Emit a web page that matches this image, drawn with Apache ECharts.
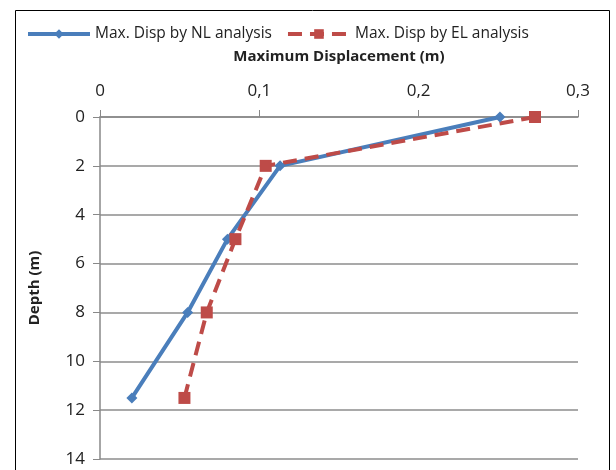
<!DOCTYPE html>
<html>
<head>
<meta charset="utf-8">
<script src="https://cdn.jsdelivr.net/npm/echarts@6/dist/echarts.min.js"></script>
<style>
  html, body { margin: 0; padding: 0; background: #fff; }
  #chart { width: 616px; height: 470px; }
</style>
</head>
<body>
<div id="chart"></div>
<script>
// depth (m) of each reading
const depths = [0, 2, 5, 8, 11.5]
// max displacement (m)
const nlDisp = [0.251, 0.113, 0.080, 0.055, 0.020]
const elDisp = [0.273, 0.104, 0.085, 0.067, 0.053]
const xTicks = [0, 0.1, 0.2, 0.3]
const yTicks = [0, 2, 4, 6, 8, 10, 12, 14]

const toPairs = (xs) => xs.map((x, i) => [x, depths[i]])
const comma = (v) => String(Math.round(v * 10) / 10).replace('.', ',')

const font = 'Open Sans, Liberation Sans, sans-serif'
const chart = echarts.init(document.getElementById('chart'))

chart.setOption({
  animation: false,
  textStyle: { fontFamily: font },
  graphic: [
    {
      type: 'rect',
      shape: { x: 15.5, y: 10.5, width: 594, height: 480 },
      style: { fill: 'none', stroke: '#000', lineWidth: 1 }
    }
  ],
  legend: {
    top: 21,
    left: 21,
    itemGap: 14,
    itemWidth: 62,
    itemHeight: 12,
    lineStyle: { width: 4 },
    textStyle: { fontSize: 15.5, color: '#222', fontFamily: font },
    data: ['Max. Disp by NL analysis', 'Max. Disp by EL analysis']
  },
  grid: { left: 100, top: 117, width: 478, height: 342 },
  xAxis: {
    type: 'value',
    position: 'top',
    min: 0,
    max: 0.3,
    interval: 0.1,
    name: 'Maximum Displacement (m)',
    nameLocation: 'middle',
    nameGap: 53,
    nameTextStyle: { fontSize: 15, fontWeight: 'bold', color: '#222' },
    axisLine: { show: true, lineStyle: { color: '#888', width: 1.5 } },
    axisTick: { show: true, length: 7, lineStyle: { color: '#888' } },
    axisLabel: { fontSize: 17, color: '#222', margin: 17, formatter: comma },
    splitLine: { show: false }
  },
  yAxis: {
    type: 'value',
    inverse: true,
    min: 0,
    max: 14,
    interval: 2,
    name: 'Depth (m)',
    nameLocation: 'middle',
    nameGap: 58,
    nameTextStyle: { fontSize: 15, fontWeight: 'bold', color: '#222' },
    axisLine: { show: true, lineStyle: { color: '#888', width: 1.5 } },
    axisTick: { show: true, length: 7, lineStyle: { color: '#888' } },
    axisLabel: { fontSize: 17, color: '#222', margin: 15 },
    splitLine: { show: true, lineStyle: { color: '#8c8c8c', width: 1.5 } }
  },
  series: [
    {
      name: 'Max. Disp by NL analysis',
      type: 'line',
      data: toPairs(nlDisp),
      symbol: 'diamond',
      symbolSize: 11,
      lineStyle: { color: '#4a7ebb', width: 4 },
      itemStyle: { color: '#4a7ebb' }
    },
    {
      name: 'Max. Disp by EL analysis',
      type: 'line',
      data: toPairs(elDisp),
      symbol: 'rect',
      symbolSize: 12,
      lineStyle: { color: '#be4b48', width: 4, type: [14, 8] },
      itemStyle: { color: '#be4b48' }
    }
  ]
})
</script>
</body>
</html>
